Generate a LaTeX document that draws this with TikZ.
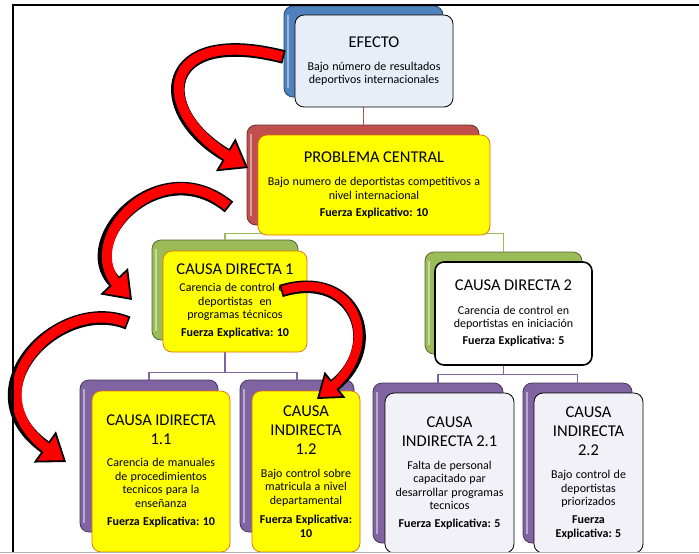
\documentclass[tikz,border=0pt]{standalone}
\usepackage{fontspec}
\setmainfont{Carlito}
\usetikzlibrary{arrows.meta}
\frenchspacing

\definecolor{azul}{RGB}{79,129,189}
\definecolor{rojo}{RGB}{192,80,77}
\definecolor{verde}{RGB}{155,187,89}
\definecolor{morado}{RGB}{128,100,162}
\definecolor{amarillo}{RGB}{255,255,0}
\definecolor{borde}{RGB}{226,107,10}
\definecolor{celesteb}{RGB}{232,238,247}
\definecolor{lilab}{RGB}{243,241,248}

\newcommand\ftit{\fontsize{16.5}{19}\selectfont}
\newcommand\fsub{\fontsize{12}{13.5}\selectfont}
\newcommand\ffza{\fontsize{12}{13.5}\selectfont\bfseries}

% flecha roja con borde negro: #1 ancho, #2 punta, #3 recorte, #4 camino
\newcommand\flecha[4]{%
  \draw[line width=#1+3.6pt, black, -{Triangle[#2, fill=red, line width=1.8pt]}] #4;
  \draw[line width=#1, red, shorten <=1.8pt, shorten >=#3] #4;}

\begin{document}
\begin{tikzpicture}[x=1pt, y=-1pt,
  caja/.style={rounded corners=9pt, align=center, inner sep=3pt},
  atras/.style={draw=#1!55!black, line width=.8pt, rounded corners=9pt, fill=#1,
    path picture={\draw[white, opacity=.45, line width=2.5pt]
      ([xshift=4pt,yshift=-9pt]path picture bounding box.north west) --
      ([xshift=4pt,yshift=9pt]path picture bounding box.south west);}},
  amarilla/.style={caja, fill=amarillo, draw=borde, line width=.7pt},
  blanca/.style={caja, fill=white, draw=black, line width=1.6pt},
  lila/.style={caja, fill=lilab, draw=black, line width=.8pt},
  celeste/.style={caja, fill=celesteb, draw=black, line width=.8pt},
  conector/.style={line width=1.6pt, draw=#1},
]
\useasboundingbox (0,0) rectangle (699,554);

\begin{scope}
\clip (0,0) rectangle (699,552);

% Cajas de fondo
\node[atras=azul, minimum width=159pt, minimum height=91pt] (efb) at (363.5,51.5) {};
\node[atras=rojo, minimum width=232pt, minimum height=100pt] (pcb) at (363,175) {};
\node[atras=verde, minimum width=146pt, minimum height=100pt] (cd1b) at (225,290) {};
\node[atras=verde, minimum width=157pt, minimum height=102pt] (cd2b) at (503.5,303) {};
\node[atras=morado, minimum width=138pt, minimum height=152pt] (ci11b) at (149,456) {};
\node[atras=morado, minimum width=114pt, minimum height=152pt] (ci12b) at (297,456) {};
\node[atras=morado, minimum width=130pt, minimum height=160pt] (ci21b) at (438,463) {};
\node[atras=morado, minimum width=109pt, minimum height=160pt] (ci22b) at (577.5,463) {};

% Conectores
\draw[conector=rojo] (efb.south) -- (efb.south |- pcb.north);
\draw[conector=verde] (pcb.south) -- ++(0,8) -| (cd1b.north);
\draw[conector=verde] (pcb.south) -- ++(0,8) -| (cd2b.north);
\draw[conector=morado] (cd1b.south) -- ++(0,32) -| (ci11b.north);
\draw[conector=morado] (cd1b.south) -- ++(0,32) -| (ci12b.north);
\draw[conector=morado] (cd2b.south) -- ++(0,20) -| (ci21b.north);
\draw[conector=morado] (cd2b.south) -- ++(0,20) -| (ci22b.north);

% Cajas de frente
\node[celeste, minimum width=158pt, minimum height=92pt, text width=150pt] (ef) at (374,61)
  {{\ftit EFECTO\par}\vspace{9.5pt}
   {\fsub Bajo número de resultados\\deportivos internacionales\par}};
\node[amarilla, minimum width=232pt, minimum height=100pt, text width=224pt] (pc) at (374,185)
  {{\ftit PROBLEMA CENTRAL\par}\vspace{9.5pt}
   {\fsub Bajo numero de deportistas competitivos a\\nivel internacional\par}\vspace{3.5pt}
   {\ffza Fuerza Explicativo: 10\par}};
\node[amarilla, minimum width=144pt, minimum height=101pt, text width=136pt] (cd1) at (235,301.5)
  {{\ftit CAUSA DIRECTA 1\par}\vspace{3.5pt}
   {\fsub Carencia de control en\\deportistas~ en\\programas técnicos\par}\vspace{4.5pt}
   {\ffza Fuerza Explicativa: 10\par}};
\node[blanca, minimum width=157pt, minimum height=103pt, text width=149pt] (cd2) at (513.5,313.5)
  {{\ftit CAUSA DIRECTA 2\par}\vspace{10pt}
   {\fsub Carencia de control en\\deportistas en iniciación\par}\vspace{3.5pt}
   {\ffza Fuerza Explicativa: 5\par}};
\node[amarilla, minimum width=138pt, minimum height=161pt, text width=130pt] (ci11) at (161,471.5)
  {{\ftit CAUSA IDIRECTA\\1.1\par}\vspace{8.5pt}
   {\fsub Carencia de manuales\\de procedimientos\\tecnicos para la\\enseñanza\par}\vspace{5pt}
   {\ffza Fuerza Explicativa: 10\par}};
\node[amarilla, minimum width=108pt, minimum height=161pt, text width=100pt] (ci12) at (306,471.5)
  {{\ftit CAUSA\\INDIRECTA\\1.2\par}\vspace{9.5pt}
   {\fsub Bajo control sobre\\matricula a nivel\\departamental\par}\vspace{6pt}
   {\ffza Fuerza Explicativa:\\10\par}};
\node[lila, minimum width=129pt, minimum height=160pt, text width=121pt] (ci21) at (449.5,473)
  {{\ftit CAUSA\\INDIRECTA 2.1\par}\vspace{9.5pt}
   {\fsub Falta de personal\\capacitado par\\desarrollar programas\\tecnicos\par}\vspace{4.5pt}
   {\ffza Fuerza Explicativa: 5\par}};
\node[lila, minimum width=109pt, minimum height=160pt, text width=101pt] (ci22) at (588.5,473)
  {{\ftit CAUSA\\INDIRECTA\\2.2\par}\vspace{9.5pt}
   {\fsub Bajo control de\\deportistas\\priorizados\par}\vspace{4.5pt}
   {\ffza Fuerza\\Explicativa: 5\par}};

% Flechas rojas
\coordinate (f1a) at (284,57);  \coordinate (f1b) at (248,168);
\coordinate (f2a) at (229,207); \coordinate (f2b) at (132,300);
\coordinate (f3a) at (128,323); \coordinate (f3b) at (66,462);
\coordinate (f4a) at (281,291); \coordinate (f4b) at (317,399);
\flecha{10pt}{width=38pt,length=26pt}{19pt}{(f1a) .. controls (160,25) and (150,110) .. (f1b)}
\flecha{10pt}{width=38pt,length=26pt}{19pt}{(f2a) .. controls (160,150) and (75,240) .. (f2b)}
\flecha{10pt}{width=38pt,length=26pt}{19pt}{(f3a) .. controls (60,295) and (-35,390) .. (f3b)}
\flecha{9pt}{width=33pt,length=23pt}{16pt}{(f4a) .. controls (355,268) and (385,345) .. (f4b)}
\end{scope}

% Marco
\draw[gray!60, line width=1pt] (0,552) -- (699,552);
\draw[line width=1.2pt] (13,552) -- (13,5) -- (699,5);
\end{tikzpicture}
\end{document}
